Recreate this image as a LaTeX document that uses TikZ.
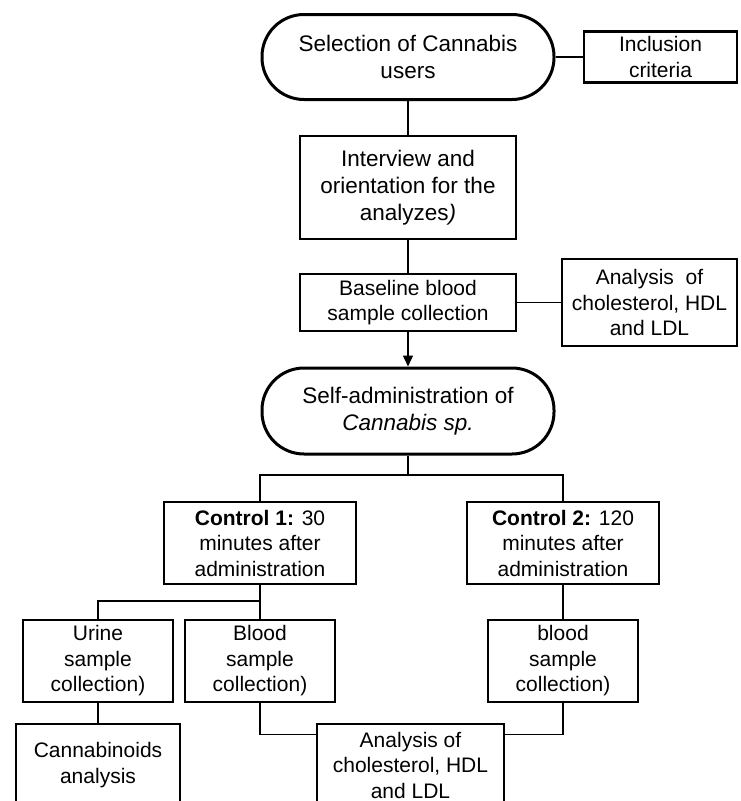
\documentclass[tikz,border=0pt]{standalone}
\usepackage{fontspec}
\setmainfont{Liberation Sans}
\usetikzlibrary{arrows.meta,calc}
\begin{document}
\begin{tikzpicture}[x=1pt,y=-1pt,
  every node/.style={font=\fontsize{21}{25.5}\selectfont, align=center, inner sep=0pt},
  term/.style={draw, line width=3pt, rounded corners=42pt, minimum width=292pt, minimum height=85pt, font=\fontsize{22.5}{27}\selectfont},
  box/.style={draw, line width=2.5pt, minimum width=150pt, minimum height=82pt},
  conn/.style={line width=1.3pt}
]
\useasboundingbox (0,0) rectangle (740,801);
\clip (0,0) rectangle (740,801);

\node[term] (sel) at (408,57) {Selection of Cannabis\\users};
\node[box, minimum width=153pt, minimum height=51pt] (inc) at (660.5,57) {Inclusion\\criteria};
\node[box, minimum width=216pt, minimum height=103pt, font=\fontsize{22.5}{27}\selectfont] (int) at (408,187.5) {Interview and\\orientation for the\\analyzes\textit{)}};
\node[box, minimum width=216pt, minimum height=57pt] (base) at (408,302.5) {Baseline blood\\sample collection};
\node[box, minimum width=175pt, minimum height=87pt] (an1) at (649.5,302.5) {Analysis\ \ of\\cholesterol, HDL\\and LDL};
\node[term, minimum height=86pt] (self) at (408,411) {Self-administration of\\\textit{Cannabis sp.}};
\node[box, minimum width=192pt] (c1) at (260,543) {\textbf{Control 1:} 30\\minutes after\\administration};
\node[box, minimum width=192pt] (c2) at (563,543) {\textbf{Control 2:} 120\\minutes after\\administration};
\node[box] (ur) at (98,661) {Urine\\sample\\collection)};
\node[box] (b1) at (260,661) {Blood\\sample\\collection)};
\node[box] (b2) at (563,661) {blood\\sample\\collection)};
\node[box, minimum width=164pt] (can) at (98,765) {Cannabinoids\\analysis};
\node[box, minimum width=187pt] (an2) at (410.5,765) {Analysis of\\cholesterol, HDL\\and LDL};

\coordinate (j1) at (408,475);
\coordinate (j2) at (260,601);

\draw[conn] (sel.south) -- (int.north);
\draw[conn] (sel.east) -- (inc.west);
\draw[conn] (int.south) -- (base.north);
\draw[conn] (base.east) -- (an1.west);
\draw[conn, -{Triangle[length=11pt,width=10pt]}] (base.south) -- (self.north);
\draw[conn] (self.south) -- (j1);
\draw[conn] (c1.north) |- (j1) -| (c2.north);
\draw[conn] (c1.south) -- (b1.north);
\draw[conn] (j2) -| (ur.north);
\draw[conn] (c2.south) -- (b2.north);
\draw[conn] (ur.south) -- (can.north);
\draw[conn] (b1.south) |- ($(an2.north west)+(0,12)$);
\draw[conn] (b2.south) |- ($(an2.north east)+(0,12)$);
\end{tikzpicture}
\end{document}
